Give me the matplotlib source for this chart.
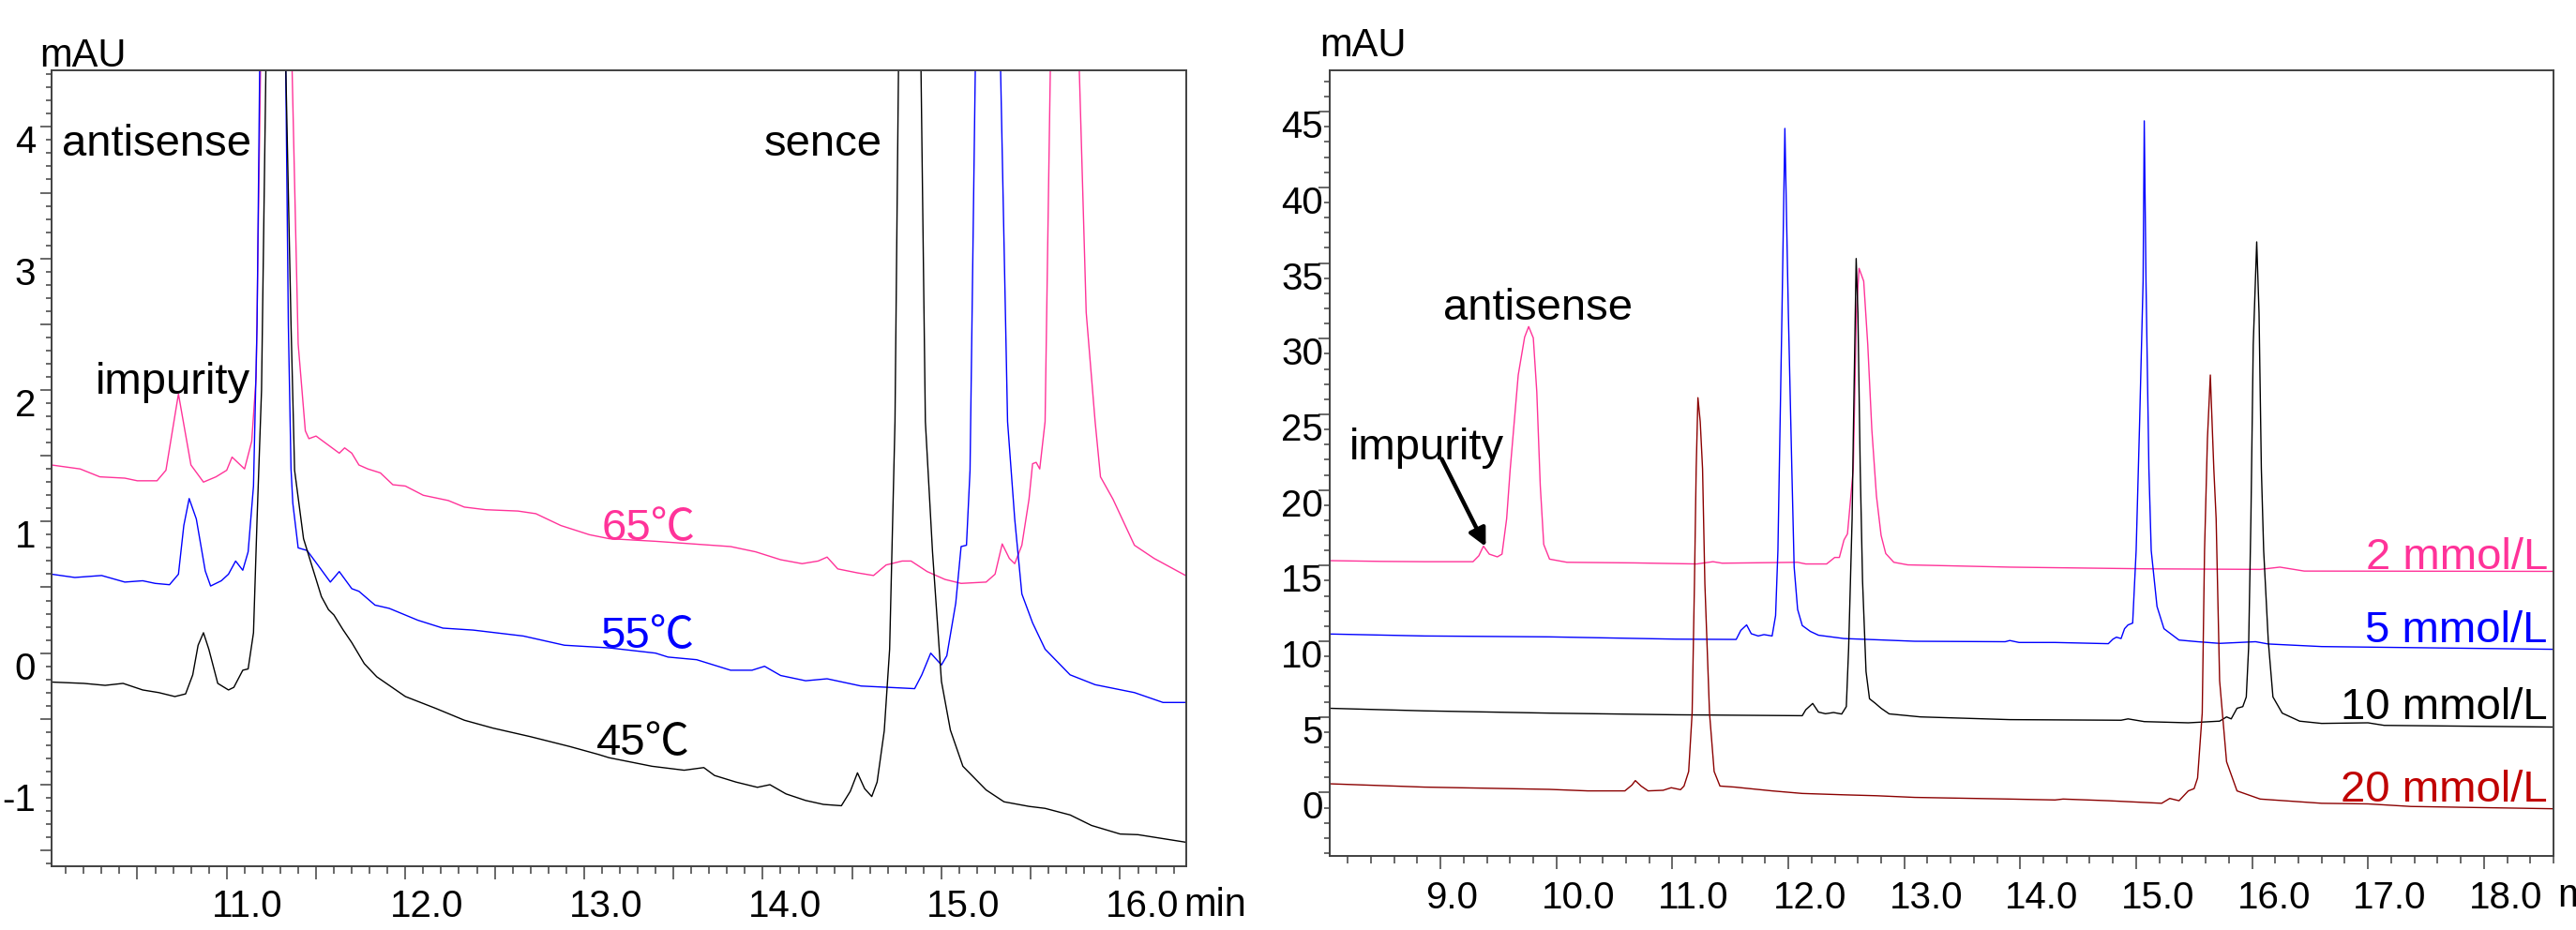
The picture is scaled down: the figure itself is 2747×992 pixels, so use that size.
import matplotlib
matplotlib.use('Agg')
import matplotlib.pyplot as plt
from matplotlib.transforms import offset_copy

plt.rcParams['font.family'] = ['Liberation Sans', 'Noto Sans CJK SC', 'DejaVu Sans']

# ---- left: column temperature (time in min, signal in mAU) ----
t65 = [10.02, 10.18, 10.29, 10.43, 10.50, 10.61, 10.66, 10.73, 10.80, 10.87, 10.94, 11.00, 11.03,
       11.10, 11.14, 11.165, 11.19, 11.28, 11.365, 11.40, 11.44, 11.46, 11.50, 11.56, 11.63, 11.66,
       11.70, 11.74, 11.79, 11.86, 11.93, 12.00, 12.10, 12.24, 12.33, 12.45, 12.63, 12.73, 12.87,
       13.03, 13.14, 13.40, 13.61, 13.82, 13.96, 14.10, 14.22, 14.31, 14.36, 14.42, 14.53, 14.62,
       14.69, 14.78, 14.83, 14.92, 15.02, 15.11, 15.25, 15.30, 15.34, 15.38, 15.41, 15.45, 15.49,
       15.51, 15.53, 15.55, 15.58, 15.61, 15.69, 15.77, 15.81, 15.86, 15.89, 15.96, 16.08, 16.19, 16.38]
y65 = [1.43, 1.40, 1.34, 1.33, 1.31, 1.31, 1.39, 1.97, 1.43, 1.30, 1.34, 1.39, 1.49,
       1.40, 1.61, 2.10, 4.50, 8.00, 4.50, 2.35, 1.69, 1.63, 1.65, 1.59, 1.52, 1.56,
       1.52, 1.43, 1.40, 1.37, 1.28, 1.27, 1.20, 1.16, 1.11, 1.09, 1.08, 1.06, 0.97,
       0.90, 0.87, 0.85, 0.83, 0.81, 0.77, 0.71, 0.68, 0.70, 0.73, 0.64, 0.61, 0.59,
       0.67, 0.70, 0.70, 0.62, 0.56, 0.53, 0.54, 0.60, 0.83, 0.72, 0.68, 0.82, 1.17,
       1.44, 1.45, 1.40, 1.76, 4.50, 8.00, 4.50, 2.59, 1.76, 1.34, 1.17, 0.82, 0.72, 0.58]

t55 = [10.02, 10.15, 10.30, 10.43, 10.53, 10.60, 10.68, 10.73, 10.76, 10.79, 10.83, 10.88, 10.91,
       10.97, 11.01, 11.05, 11.09, 11.12, 11.15, 11.17, 11.185, 11.26, 11.33, 11.345, 11.36, 11.37,
       11.40, 11.45, 11.51, 11.58, 11.63, 11.70, 11.74, 11.83, 11.91, 12.07, 12.21, 12.38, 12.66,
       12.89, 13.14, 13.40, 13.47, 13.63, 13.82, 13.94, 14.01, 14.10, 14.24, 14.36, 14.55, 14.85,
       14.89, 14.94, 15.00, 15.03, 15.08, 15.11, 15.14, 15.16, 15.19, 15.26, 15.33, 15.37, 15.41,
       15.45, 15.51, 15.58, 15.72, 15.86, 16.08, 16.24, 16.38]
y55 = [0.60, 0.575, 0.59, 0.54, 0.55, 0.53, 0.52, 0.60, 0.97, 1.175, 1.02, 0.625, 0.51,
       0.55, 0.60, 0.70, 0.63, 0.77, 1.27, 2.50, 4.50, 8.00, 4.50, 2.50, 1.40, 1.14,
       0.80, 0.78, 0.67, 0.54, 0.62, 0.49, 0.47, 0.365, 0.34, 0.25, 0.19, 0.175, 0.13,
       0.06, 0.04, 0.00, -0.03, -0.05, -0.13, -0.13, -0.10, -0.17, -0.21, -0.195, -0.25, -0.27,
       -0.165, 0.00, -0.09, -0.02, 0.38, 0.81, 0.82, 1.39, 4.50, 8.00, 4.50, 1.76, 1.02,
       0.45, 0.23, 0.03, -0.165, -0.24, -0.30, -0.375, -0.375]

t45 = [10.02, 10.20, 10.32, 10.42, 10.53, 10.62, 10.71, 10.77, 10.81, 10.84, 10.87, 10.90, 10.95,
       11.01, 11.04, 11.09, 11.12, 11.15, 11.17, 11.195, 11.22, 11.28, 11.33, 11.36, 11.38, 11.43,
       11.48, 11.53, 11.57, 11.60, 11.65, 11.70, 11.77, 11.84, 12.00, 12.17, 12.33, 12.49, 12.70,
       12.92, 13.08, 13.14, 13.38, 13.56, 13.67, 13.73, 13.85, 13.97, 14.04, 14.13, 14.24, 14.34,
       14.44, 14.49, 14.53, 14.57, 14.61, 14.64, 14.68, 14.71, 14.74, 14.76, 14.82, 14.885, 14.91,
       14.95, 15.00, 15.05, 15.12, 15.25, 15.35, 15.49, 15.58, 15.72, 15.84, 16.00, 16.10, 16.38]
y45 = [-0.22, -0.23, -0.245, -0.23, -0.28, -0.30, -0.33, -0.31, -0.165, 0.06, 0.155, 0.03, -0.23,
       -0.28, -0.26, -0.13, -0.12, 0.155, 1.02, 2.00, 4.50, 8.00, 4.50, 2.50, 1.39, 0.87,
       0.65, 0.43, 0.33, 0.29, 0.18, 0.08, -0.08, -0.18, -0.33, -0.42, -0.51, -0.57, -0.635,
       -0.71, -0.77, -0.795, -0.86, -0.89, -0.87, -0.93, -0.98, -1.02, -1.00, -1.07, -1.12, -1.15,
       -1.16, -1.05, -0.91, -1.03, -1.09, -0.98, -0.59, 0.03, 1.76, 4.50, 8.00, 4.50, 1.76,
       0.77, -0.215, -0.585, -0.86, -1.04, -1.13, -1.165, -1.18, -1.23, -1.31, -1.375, -1.38, -1.44]

# ---- right: buffer concentration ----
t2 = [8.04, 8.49, 8.86, 9.28, 9.33, 9.37, 9.42, 9.49, 9.53, 9.57, 9.60, 9.67, 9.725, 9.76, 9.80,
      9.83, 9.86, 9.89, 9.94, 10.09, 10.67, 11.21, 11.35, 11.43, 12.08, 12.15, 12.33, 12.40, 12.44,
      12.48, 12.51, 12.56, 12.587, 12.61, 12.65, 12.685, 12.72, 12.76, 12.80, 12.84, 12.91, 13.03,
      13.91, 15.07, 16.07, 16.24, 16.45, 18.59]
y2 = [15.33, 15.28, 15.26, 15.26, 15.65, 16.29, 15.76, 15.58, 15.76, 18.1, 21.3, 27.6, 30.1, 30.8, 30.05,
      26.5, 20.3, 16.4, 15.43, 15.22, 15.18, 15.11, 15.26, 15.16, 15.22, 15.11, 15.11, 15.54, 15.54,
      16.7, 17.1, 21.4, 31.7, 34.65, 33.8, 29.6, 24.0, 19.6, 17.0, 15.8, 15.22, 15.05,
      14.90, 14.79, 14.75, 14.90, 14.64, 14.62]

t5 = [8.04, 8.86, 9.94, 11.03, 11.55, 11.59, 11.64, 11.68, 11.74, 11.79, 11.86, 11.89, 11.91, 11.945,
      11.97, 12.00, 12.03, 12.05, 12.08, 12.12, 12.19, 12.26, 12.48, 12.76, 13.09, 13.87, 13.91, 13.99,
      14.30, 14.76, 14.80, 14.83, 14.87, 14.90, 14.93, 14.97, 15.00, 15.03, 15.06, 15.07, 15.085,
      15.11, 15.13, 15.18, 15.24, 15.37, 15.53, 15.72, 16.03, 16.14, 16.60, 18.59]
y5 = [10.48, 10.35, 10.29, 10.14, 10.12, 10.72, 11.08, 10.50, 10.35, 10.44, 10.35, 11.7, 16.0, 31.7,
      43.9, 31.7, 21.4, 14.9, 12.1, 11.04, 10.65, 10.40, 10.18, 10.10, 10.00, 9.97, 10.05, 9.92,
      9.92, 9.84, 10.14, 10.27, 10.18, 10.83, 11.08, 11.2, 16.0, 24.5, 33.8, 44.4, 33.8,
      21.4, 16.0, 12.3, 10.83, 10.08, 9.97, 9.86, 9.97, 9.82, 9.65, 9.47]

t10 = [8.04, 8.86, 9.94, 11.03, 12.12, 12.15, 12.21, 12.26, 12.32, 12.39, 12.46, 12.50, 12.52, 12.55,
       12.56, 12.585, 12.60, 12.62, 12.64, 12.67, 12.70, 12.75, 12.80, 12.87, 13.14, 13.91, 14.87,
       14.93, 15.07, 15.45, 15.72, 15.78, 15.82, 15.87, 15.92, 15.95, 15.97, 15.99, 16.01, 16.04,
       16.06, 16.08, 16.10, 16.14, 16.18, 16.26, 16.41, 16.60, 17.00, 17.14, 18.59]
y10 = [5.57, 5.40, 5.25, 5.14, 5.08, 5.47, 5.89, 5.32, 5.21, 5.29, 5.19, 5.68, 9.54, 18.1,
       23.4, 35.3, 31.7, 21.4, 14.0, 8.0, 6.2, 5.9, 5.57, 5.20, 5.00, 4.82, 4.78,
       4.87, 4.69, 4.61, 4.72, 5.00, 4.87, 5.57, 5.68, 6.32, 9.54, 18.1, 29.6, 36.4,
       31.7, 21.4, 16.0, 10.0, 6.32, 5.25, 4.72, 4.57, 4.61, 4.44, 4.33]

t20 = [8.04, 8.86, 9.94, 10.27, 10.59, 10.65, 10.68, 10.73, 10.79, 10.92, 10.99, 11.07, 11.10, 11.14,
       11.17, 11.19, 11.205, 11.22, 11.24, 11.26, 11.28, 11.32, 11.36, 11.41, 11.54, 11.64, 11.86,
       12.12, 12.48, 12.76, 13.09, 13.91, 14.30, 14.37, 14.76, 15.22, 15.29, 15.37, 15.45, 15.50,
       15.53, 15.57, 15.59, 15.615, 15.64, 15.65, 15.67, 15.69, 15.72, 15.78, 15.87, 16.07, 16.60,
       17.00, 17.37, 18.59]
y20 = [0.58, 0.36, 0.21, 0.11, 0.11, 0.49, 0.79, 0.43, 0.11, 0.15, 0.32, 0.19, 0.43, 1.39,
       5.25, 13.8, 21.4, 26.1, 24.5, 21.4, 13.8, 5.25, 1.39, 0.43, 0.36, 0.28, 0.11,
       -0.06, -0.15, -0.21, -0.32, -0.43, -0.49, -0.43, -0.54, -0.71, -0.39, -0.54, 0.11, 0.26,
       0.96, 5.25, 16.0, 23.4, 27.6, 25.5, 21.4, 18.1, 7.4, 2.04, 0.11, -0.43, -0.71,
       -0.75, -0.92, -1.07]

PINK = '#FF3399'
BLUE = '#0000FF'
DRED = '#8B0000'
TICKFS = 29

W, H = 2747, 992
fig = plt.figure(figsize=(W / 100, H / 100), dpi=100)


def px_axes(l, t, r, b):
    return fig.add_axes([l / W, 1 - b / H, (r - l) / W, (b - t) / H])


def style(ax, xmaj, xmin_, ymaj, ymin_, xlabs, ylabs, xlab_dy, ylab_dx, xlen, ylen):
    ax.set_xticks(xmaj)
    ax.set_xticks(xmin_, minor=True)
    ax.set_yticks(ymaj)
    ax.set_yticks(ymin_, minor=True)
    ax.tick_params(axis='x', which='major', length=xlen[0], width=1.1, color='#404040')
    ax.tick_params(axis='x', which='minor', length=xlen[1], width=1.1, color='#404040')
    ax.tick_params(axis='y', which='major', length=ylen[0], width=1.1, color='#404040')
    ax.tick_params(axis='y', which='minor', length=ylen[1], width=1.1, color='#404040')
    ax.tick_params(labelbottom=False, labelleft=False)
    for s in ax.spines.values():
        s.set_color('#404040')
        s.set_linewidth(1.4)
    # tick labels sit a little right of / below their tick, like the instrument software
    tx = offset_copy(ax.get_xaxis_transform(), fig=fig, x=-16, y=xlab_dy, units='dots')
    for v in xlabs:
        ax.text(v, 0, f'{v:.1f}', transform=tx, ha='left', va='top', fontsize=TICKFS)
    ty = offset_copy(ax.get_yaxis_transform(), fig=fig, x=ylab_dx, y=2, units='dots')
    for v in ylabs:
        ax.text(0, v, f'{v:g}', transform=ty, ha='right', va='top', fontsize=TICKFS)


# left panel
ax1 = px_axes(55, 75, 1265, 924)
ax1.plot(t65, y65, color=PINK, lw=1.0)
ax1.plot(t55, y55, color=BLUE, lw=1.0)
ax1.plot(t45, y45, color='black', lw=1.0)
ax1.set_xlim(10.02, 16.37)
ax1.set_ylim(-1.62, 4.43)
style(ax1,
      [10.5 + 0.5 * i for i in range(12)], [10.1 + 0.1 * i for i in range(63)],
      [-1.5 + 0.5 * i for i in range(12)], [-1.6 + 0.1 * i for i in range(61)],
      [11.0, 12.0, 13.0, 14.0, 15.0, 16.0], [-1, 0, 1, 2, 3, 4],
      -24, -17, (10, 6), (8.5, 4.5))

ax1.text(10.077, 3.78, 'antisense', fontsize=34)
ax1.text(10.265, 1.97, 'impurity', fontsize=34)
ax1.text(14.006, 3.78, 'sence', fontsize=34)
ax1.text(13.10, 0.86, '65℃', fontsize=34, color=PINK)
ax1.text(13.09, 0.04, '55℃', fontsize=34, color=BLUE)
ax1.text(13.07, -0.77, '45℃', fontsize=34, color='black')

# right panel
ax2 = px_axes(1418, 75, 2723, 913)
ax2.plot(t2, y2, color=PINK, lw=1.0)
ax2.plot(t5, y5, color=BLUE, lw=1.0)
ax2.plot(t10, y10, color='black', lw=1.0)
ax2.plot(t20, y20, color=DRED, lw=1.0)
ax2.set_xlim(8.044, 18.60)
ax2.set_ylim(-4.19, 47.74)
style(ax2,
      [9.0 + i for i in range(10)], [8.2 + 0.2 * i for i in range(53)],
      [5 * i for i in range(10)], [-4 + i for i in range(52)],
      [9.0 + i for i in range(10)], [5 * i for i in range(10)],
      -26, -7, (10, 6), (8.5, 4.5))

ax2.text(9.02, 31.23, 'antisense', fontsize=34)
ax2.text(8.21, 22.0, 'impurity', fontsize=34)
ax2.annotate('', xy=(9.40, 16.1), xytext=(9.0, 22.2),
             arrowprops=dict(arrowstyle='-|>', lw=3.2, color='black', mutation_scale=28))
ax2.text(18.55, 14.78, '2 mmol/L', fontsize=34, color=PINK, ha='right')
ax2.text(18.55, 9.96, '5 mmol/L', fontsize=34, color=BLUE, ha='right')
ax2.text(18.55, 4.88, '10 mmol/L', fontsize=34, color='black', ha='right')
ax2.text(18.55, -0.57, '20 mmol/L', fontsize=34, color='#C00000', ha='right')

fig.text(42 / W, 1 - 71 / H, 'mAU', fontsize=30)
fig.text(1407 / W, 1 - 60 / H, 'mAU', fontsize=30)
fig.text(1262 / W, 1 - 977 / H, 'min', fontsize=30)
# the reference cuts this one off at the right edge of the image
fig.text(2727 / W, 1 - 967 / H, 'min', fontsize=30)

fig.savefig('out.png', dpi=100)
